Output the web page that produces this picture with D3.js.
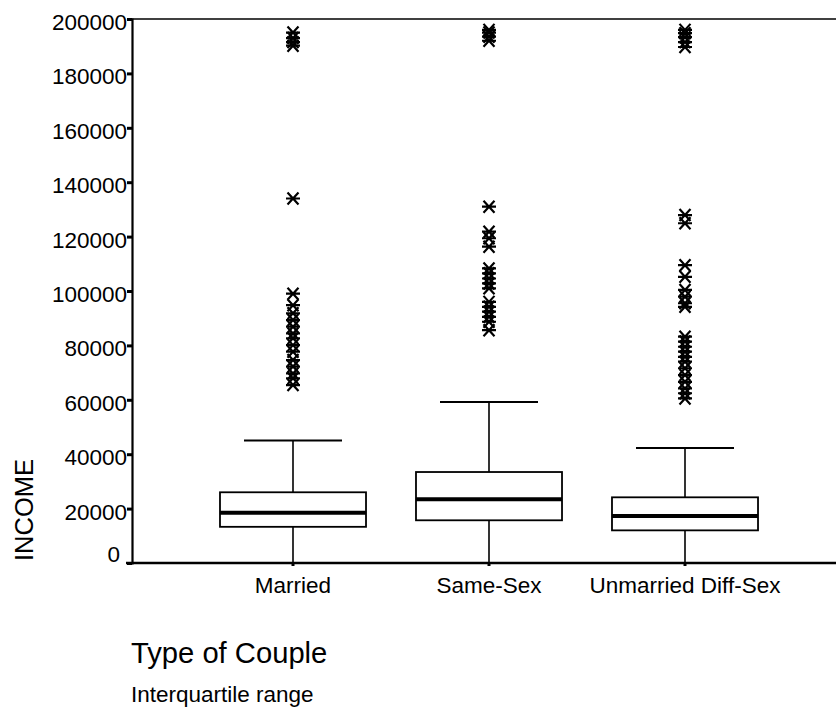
<!DOCTYPE html>
<html>
<head>
<meta charset="utf-8">
<script src="https://cdn.jsdelivr.net/npm/d3@7"></script>
<style>
  body { margin: 0; background: #fff; }
  svg { display: block; font-family: "Liberation Sans", Arial, sans-serif; }
</style>
</head>
<body>
<svg id="chart" width="836" height="714"></svg>
<script>
// box plot values, one entry per category
var categories = ["Married", "Same-Sex", "Unmarried Diff-Sex"];
var whiskerLow = [0, 0, 0];
var q1 = [13300, 15700, 12000];
var median = [18500, 23400, 17300];
var q3 = [26000, 33450, 24150];
var whiskerHigh = [45000, 59200, 42300];

// extreme values drawn as asterisks
var outliersMarried = [195000, 193000, 191500, 190200, 134000,
  99000, 94800, 91800, 89300, 86900, 84400, 82600, 80100, 77700,
  74600, 72200, 69700, 67900, 65400];
var outliersSameSex = [196000, 195000, 193500, 192000, 131000,
  121800, 119400, 116300, 108300, 106500, 104600, 102800, 101000,
  96000, 94200, 92400, 90500, 88700, 85600];
var outliersUnmarried = [196000, 194800, 193300, 191500, 189700,
  127900, 124900, 109500, 105200, 100400, 97900, 95500, 94200,
  83200, 81400, 79500, 77700, 75800, 74000, 71600, 69100, 66600,
  64200, 62400, 60500];
var outliers = [outliersMarried, outliersSameSex, outliersUnmarried];

var yTicks = d3.range(0, 200001, 20000);

///////////////////////////////////////////////////////////////////////////////
// layout

var svg = d3.select("#chart");
var plotLeft = 132, plotTop = 19, plotBottom = 563, plotRight = 836;

var y = d3.scaleLinear().domain([0, 200000]).range([plotBottom, plotTop]);
var x = d3.scaleBand().domain(categories).range([195, 783]);
var bw = x.bandwidth();
var boxW = bw * 0.745, capW = bw * 0.5;
var cx = function (c) { return x(c) + bw / 2; };

// frame: top line and x axis line
svg.append("line")
  .attr("x1", plotLeft).attr("x2", plotRight).attr("y1", plotTop).attr("y2", plotTop)
  .attr("stroke", "#000").attr("stroke-width", 1.6);
svg.append("line")
  .attr("x1", plotLeft - 6).attr("x2", plotRight).attr("y1", plotBottom).attr("y2", plotBottom)
  .attr("stroke", "#000").attr("stroke-width", 2.5);

// y axis
var yAxis = svg.append("g")
  .attr("transform", "translate(" + plotLeft + ",0)")
  .call(d3.axisLeft(y).tickValues(yTicks).tickSize(5).tickPadding(0)
    .tickFormat(d3.format("d")));
yAxis.select(".domain").attr("stroke-width", 2.2);
yAxis.selectAll(".tick line").attr("stroke-width", 3);
yAxis.selectAll(".tick text")
  .attr("font-size", 22.5).attr("fill", "#000")
  .attr("x", function (d) { return d === 0 ? -12 : -5; })
  .attr("dy", function (d) { return d === 0 ? "-0.05em" : "0.47em"; });

// x tick marks and labels
categories.forEach(function (c) {
  svg.append("line")
    .attr("x1", cx(c)).attr("x2", cx(c))
    .attr("y1", plotBottom).attr("y2", plotBottom + 3)
    .attr("stroke", "#000").attr("stroke-width", 3);
  svg.append("text")
    .attr("x", cx(c)).attr("y", 593)
    .attr("text-anchor", "middle").attr("font-size", 22.5)
    .text(c);
});

///////////////////////////////////////////////////////////////////////////////
// boxes

var g = svg.append("g").attr("fill", "none").attr("stroke", "#000");

categories.forEach(function (c, i) {
  var xc = cx(c);
  // whiskers
  g.append("line").attr("x1", xc).attr("x2", xc)
    .attr("y1", y(q3[i])).attr("y2", y(whiskerHigh[i])).attr("stroke-width", 1.6);
  g.append("line").attr("x1", xc).attr("x2", xc)
    .attr("y1", y(q1[i])).attr("y2", y(whiskerLow[i])).attr("stroke-width", 1.6);
  [whiskerHigh[i], whiskerLow[i]].forEach(function (v) {
    g.append("line")
      .attr("x1", xc - capW / 2).attr("x2", xc + capW / 2)
      .attr("y1", y(v)).attr("y2", y(v)).attr("stroke-width", 2);
  });
  // box
  g.append("rect")
    .attr("x", xc - boxW / 2).attr("width", boxW)
    .attr("y", y(q3[i])).attr("height", y(q1[i]) - y(q3[i]))
    .attr("fill", "#fff").attr("stroke-width", 1.8);
  // median
  g.append("line")
    .attr("x1", xc - boxW / 2).attr("x2", xc + boxW / 2)
    .attr("y1", y(median[i])).attr("y2", y(median[i]))
    .attr("stroke-width", 4);
});

// asterisk outliers
var star = "M-7,0H7M-5.5,-6L5.5,6M-5.5,6L5.5,-6";
categories.forEach(function (c, i) {
  g.selectAll(null)
    .data(outliers[i])
    .enter().append("path")
    .attr("d", star)
    .attr("transform", function (d) { return "translate(" + cx(c) + "," + y(d) + ")"; })
    .attr("stroke-width", 2.2);
});

///////////////////////////////////////////////////////////////////////////////
// titles

svg.append("text")
  .attr("transform", "translate(33,510) rotate(-90)")
  .attr("text-anchor", "middle").attr("font-size", 25.5)
  .text("INCOME");

svg.append("text")
  .attr("x", 131).attr("y", 663)
  .attr("font-size", 29.2)
  .text("Type of Couple");

svg.append("text")
  .attr("x", 131).attr("y", 702)
  .attr("font-size", 22.5)
  .text("Interquartile range");
</script>
</body>
</html>
